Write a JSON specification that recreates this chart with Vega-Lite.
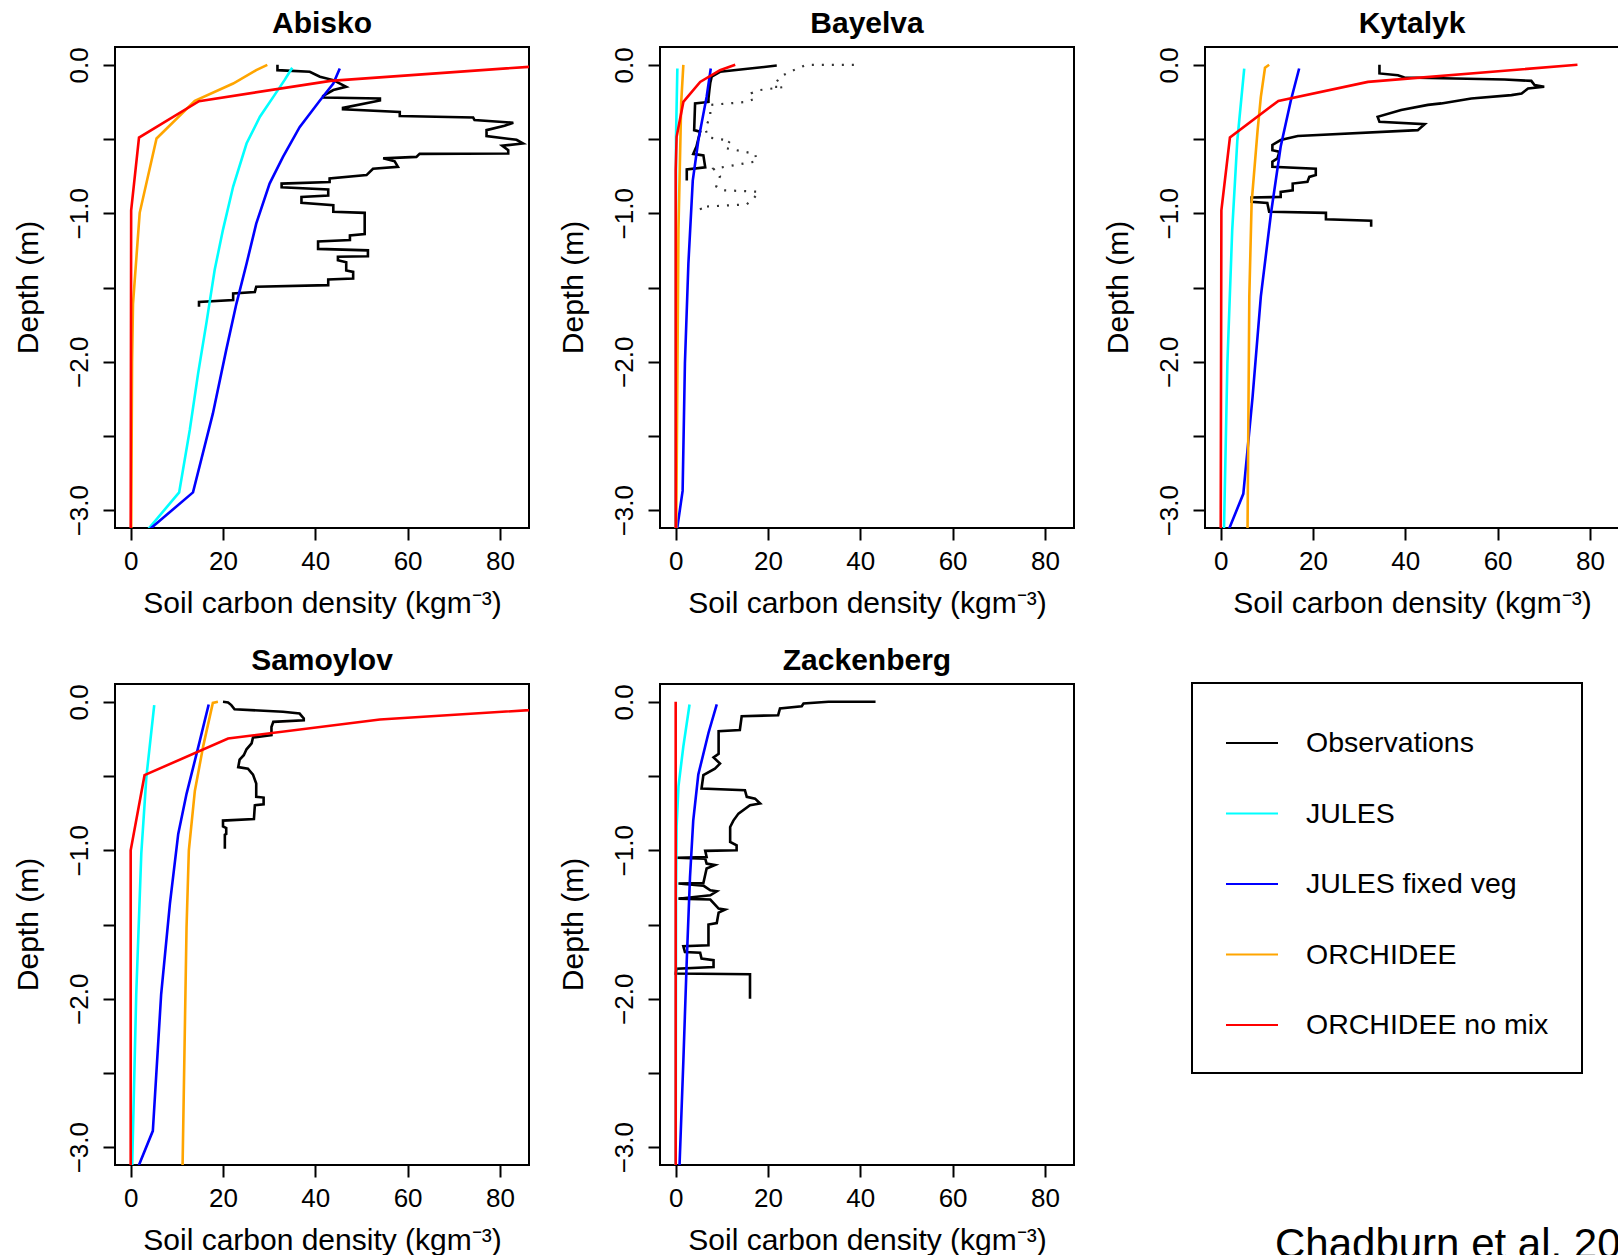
{
"$schema": "https://vega.github.io/schema/vega-lite/v6.json",
"autosize": {"type": "none"},
"padding": {"left": 115, "top": 47, "right": 1503, "bottom": 1208},
"background": "white",
"datasets": {
"profiles": [
{"site":"Abisko","src":"Observations","c":31.8,"d":0},{"site":"Abisko","src":"Observations","c":31.8,"d":-0.036},{"site":"Abisko","src":"Observations","c":38.8,"d":-0.047},{"site":"Abisko","src":"Observations","c":41,"d":-0.08},{"site":"Abisko","src":"Observations","c":43.9,"d":-0.103},{"site":"Abisko","src":"Observations","c":46.7,"d":-0.148},{"site":"Abisko","src":"Observations","c":43.9,"d":-0.17},{"site":"Abisko","src":"Observations","c":41.7,"d":-0.21},{"site":"Abisko","src":"Observations","c":41.7,"d":-0.22},{"site":"Abisko","src":"Observations","c":54,"d":-0.227},{"site":"Abisko","src":"Observations","c":54,"d":-0.24},{"site":"Abisko","src":"Observations","c":46,"d":-0.29},{"site":"Abisko","src":"Observations","c":46,"d":-0.3},{"site":"Abisko","src":"Observations","c":58.3,"d":-0.317},{"site":"Abisko","src":"Observations","c":58.3,"d":-0.345},{"site":"Abisko","src":"Observations","c":74.2,"d":-0.355},{"site":"Abisko","src":"Observations","c":74.5,"d":-0.372},{"site":"Abisko","src":"Observations","c":82.9,"d":-0.39},{"site":"Abisko","src":"Observations","c":81,"d":-0.41},{"site":"Abisko","src":"Observations","c":77.1,"d":-0.44},{"site":"Abisko","src":"Observations","c":77.1,"d":-0.48},{"site":"Abisko","src":"Observations","c":83.6,"d":-0.505},{"site":"Abisko","src":"Observations","c":85,"d":-0.53},{"site":"Abisko","src":"Observations","c":80.5,"d":-0.545},{"site":"Abisko","src":"Observations","c":81.8,"d":-0.575},{"site":"Abisko","src":"Observations","c":81.8,"d":-0.597},{"site":"Abisko","src":"Observations","c":62.6,"d":-0.6},{"site":"Abisko","src":"Observations","c":61.9,"d":-0.62},{"site":"Abisko","src":"Observations","c":54.7,"d":-0.63},{"site":"Abisko","src":"Observations","c":57.2,"d":-0.65},{"site":"Abisko","src":"Observations","c":57.9,"d":-0.687},{"site":"Abisko","src":"Observations","c":52.5,"d":-0.7},{"site":"Abisko","src":"Observations","c":51.1,"d":-0.743},{"site":"Abisko","src":"Observations","c":43.1,"d":-0.766},{"site":"Abisko","src":"Observations","c":43.1,"d":-0.79},{"site":"Abisko","src":"Observations","c":32.7,"d":-0.8},{"site":"Abisko","src":"Observations","c":32.7,"d":-0.825},{"site":"Abisko","src":"Observations","c":42.8,"d":-0.84},{"site":"Abisko","src":"Observations","c":42.8,"d":-0.88},{"site":"Abisko","src":"Observations","c":37,"d":-0.89},{"site":"Abisko","src":"Observations","c":37,"d":-0.93},{"site":"Abisko","src":"Observations","c":43.9,"d":-0.945},{"site":"Abisko","src":"Observations","c":43.9,"d":-0.99},{"site":"Abisko","src":"Observations","c":50.7,"d":-0.997},{"site":"Abisko","src":"Observations","c":50.7,"d":-1.14},{"site":"Abisko","src":"Observations","c":47.5,"d":-1.15},{"site":"Abisko","src":"Observations","c":47.5,"d":-1.18},{"site":"Abisko","src":"Observations","c":40.6,"d":-1.19},{"site":"Abisko","src":"Observations","c":40.6,"d":-1.24},{"site":"Abisko","src":"Observations","c":51.4,"d":-1.25},{"site":"Abisko","src":"Observations","c":51.4,"d":-1.29},{"site":"Abisko","src":"Observations","c":44.9,"d":-1.293},{"site":"Abisko","src":"Observations","c":44.9,"d":-1.316},{"site":"Abisko","src":"Observations","c":46.7,"d":-1.33},{"site":"Abisko","src":"Observations","c":46.7,"d":-1.385},{"site":"Abisko","src":"Observations","c":48.2,"d":-1.395},{"site":"Abisko","src":"Observations","c":48.2,"d":-1.44},{"site":"Abisko","src":"Observations","c":42.8,"d":-1.446},{"site":"Abisko","src":"Observations","c":42.8,"d":-1.484},{"site":"Abisko","src":"Observations","c":27.2,"d":-1.495},{"site":"Abisko","src":"Observations","c":26.9,"d":-1.53},{"site":"Abisko","src":"Observations","c":22.2,"d":-1.54},{"site":"Abisko","src":"Observations","c":22.2,"d":-1.585},{"site":"Abisko","src":"Observations","c":14.8,"d":-1.597},{"site":"Abisko","src":"Observations","c":14.8,"d":-1.63},
{"site":"Abisko","src":"JULES","c":35,"d":-0.02},{"site":"Abisko","src":"JULES","c":33.4,"d":-0.1},{"site":"Abisko","src":"JULES","c":30.9,"d":-0.216},{"site":"Abisko","src":"JULES","c":28,"d":-0.35},{"site":"Abisko","src":"JULES","c":25.1,"d":-0.53},{"site":"Abisko","src":"JULES","c":22.2,"d":-0.82},{"site":"Abisko","src":"JULES","c":20,"d":-1.11},{"site":"Abisko","src":"JULES","c":18.2,"d":-1.38},{"site":"Abisko","src":"JULES","c":16.4,"d":-1.74},{"site":"Abisko","src":"JULES","c":14.6,"d":-2.08},{"site":"Abisko","src":"JULES","c":12.8,"d":-2.46},{"site":"Abisko","src":"JULES","c":10.5,"d":-2.88},{"site":"Abisko","src":"JULES","c":3.2,"d":-3.15},
{"site":"Abisko","src":"JULES fixed veg","c":45.3,"d":-0.025},{"site":"Abisko","src":"JULES fixed veg","c":43.9,"d":-0.126},{"site":"Abisko","src":"JULES fixed veg","c":41,"d":-0.24},{"site":"Abisko","src":"JULES fixed veg","c":36.6,"d":-0.42},{"site":"Abisko","src":"JULES fixed veg","c":33,"d":-0.62},{"site":"Abisko","src":"JULES fixed veg","c":30.1,"d":-0.8},{"site":"Abisko","src":"JULES fixed veg","c":27.2,"d":-1.07},{"site":"Abisko","src":"JULES fixed veg","c":25.1,"d":-1.34},{"site":"Abisko","src":"JULES fixed veg","c":22.9,"d":-1.61},{"site":"Abisko","src":"JULES fixed veg","c":20.7,"d":-1.92},{"site":"Abisko","src":"JULES fixed veg","c":17.8,"d":-2.35},{"site":"Abisko","src":"JULES fixed veg","c":13.5,"d":-2.88},{"site":"Abisko","src":"JULES fixed veg","c":3.3,"d":-3.15},
{"site":"Abisko","src":"ORCHIDEE","c":29.6,"d":0},{"site":"Abisko","src":"ORCHIDEE","c":27.2,"d":-0.036},{"site":"Abisko","src":"ORCHIDEE","c":22.2,"d":-0.126},{"site":"Abisko","src":"ORCHIDEE","c":13.9,"d":-0.243},{"site":"Abisko","src":"ORCHIDEE","c":5.6,"d":-0.496},{"site":"Abisko","src":"ORCHIDEE","c":1.95,"d":-0.997},{"site":"Abisko","src":"ORCHIDEE","c":0.5,"d":-1.61},{"site":"Abisko","src":"ORCHIDEE","c":0.3,"d":-2.0},{"site":"Abisko","src":"ORCHIDEE","c":0.1,"d":-3.2},
{"site":"Abisko","src":"ORCHIDEE no mix","c":92.5,"d":0},{"site":"Abisko","src":"ORCHIDEE no mix","c":43.3,"d":-0.108},{"site":"Abisko","src":"ORCHIDEE no mix","c":14.8,"d":-0.245},{"site":"Abisko","src":"ORCHIDEE no mix","c":1.8,"d":-0.49},{"site":"Abisko","src":"ORCHIDEE no mix","c":0.1,"d":-0.98},{"site":"Abisko","src":"ORCHIDEE no mix","c":0,"d":-3.2},
{"site":"Bayelva","src":"Observations","c":21.9,"d":-0.005},{"site":"Bayelva","src":"Observations","c":16.1,"d":-0.025},{"site":"Bayelva","src":"Observations","c":9.6,"d":-0.047},{"site":"Bayelva","src":"Observations","c":7.8,"d":-0.08},{"site":"Bayelva","src":"Observations","c":7.5,"d":-0.12},{"site":"Bayelva","src":"Observations","c":7.3,"d":-0.17},{"site":"Bayelva","src":"Observations","c":7.1,"d":-0.227},{"site":"Bayelva","src":"Observations","c":7.1,"d":-0.25},{"site":"Bayelva","src":"Observations","c":4.2,"d":-0.26},{"site":"Bayelva","src":"Observations","c":4.0,"d":-0.44},{"site":"Bayelva","src":"Observations","c":5.3,"d":-0.45},{"site":"Bayelva","src":"Observations","c":4.9,"d":-0.5},{"site":"Bayelva","src":"Observations","c":4.5,"d":-0.55},{"site":"Bayelva","src":"Observations","c":3.8,"d":-0.6},{"site":"Bayelva","src":"Observations","c":6.0,"d":-0.61},{"site":"Bayelva","src":"Observations","c":6.4,"d":-0.69},{"site":"Bayelva","src":"Observations","c":2.4,"d":-0.705},{"site":"Bayelva","src":"Observations","c":2.4,"d":-0.78},
{"site":"Bayelva","src":"JULES","c":0.36,"d":-0.025},{"site":"Bayelva","src":"JULES","c":0.07,"d":-0.49},{"site":"Bayelva","src":"JULES","c":0,"d":-3.2},
{"site":"Bayelva","src":"JULES fixed veg","c":7.6,"d":-0.025},{"site":"Bayelva","src":"JULES fixed veg","c":6.7,"d":-0.216},{"site":"Bayelva","src":"JULES fixed veg","c":4.9,"d":-0.51},{"site":"Bayelva","src":"JULES fixed veg","c":3.7,"d":-0.78},{"site":"Bayelva","src":"JULES fixed veg","c":2.75,"d":-1.34},{"site":"Bayelva","src":"JULES fixed veg","c":2.0,"d":-2.01},{"site":"Bayelva","src":"JULES fixed veg","c":1.5,"d":-2.87},{"site":"Bayelva","src":"JULES fixed veg","c":0.2,"d":-3.15},
{"site":"Bayelva","src":"ORCHIDEE","c":1.66,"d":0},{"site":"Bayelva","src":"ORCHIDEE","c":1.2,"d":-0.25},{"site":"Bayelva","src":"ORCHIDEE","c":0.6,"d":-1.11},{"site":"Bayelva","src":"ORCHIDEE","c":0.1,"d":-3.2},
{"site":"Bayelva","src":"ORCHIDEE no mix","c":12.9,"d":0},{"site":"Bayelva","src":"ORCHIDEE no mix","c":9.6,"d":-0.036},{"site":"Bayelva","src":"ORCHIDEE no mix","c":5.3,"d":-0.115},{"site":"Bayelva","src":"ORCHIDEE no mix","c":1.66,"d":-0.25},{"site":"Bayelva","src":"ORCHIDEE no mix","c":0.2,"d":-0.485},{"site":"Bayelva","src":"ORCHIDEE no mix","c":0,"d":-0.71},{"site":"Bayelva","src":"ORCHIDEE no mix","c":0,"d":-3.2},
{"site":"Kytalyk","src":"Observations","c":34.4,"d":0},{"site":"Kytalyk","src":"Observations","c":34.4,"d":-0.058},{"site":"Kytalyk","src":"Observations","c":38.4,"d":-0.07},{"site":"Kytalyk","src":"Observations","c":39.8,"d":-0.085},{"site":"Kytalyk","src":"Observations","c":61.5,"d":-0.099},{"site":"Kytalyk","src":"Observations","c":67.3,"d":-0.108},{"site":"Kytalyk","src":"Observations","c":68,"d":-0.137},{"site":"Kytalyk","src":"Observations","c":70.1,"d":-0.148},{"site":"Kytalyk","src":"Observations","c":66.6,"d":-0.16},{"site":"Kytalyk","src":"Observations","c":65.2,"d":-0.193},{"site":"Kytalyk","src":"Observations","c":63,"d":-0.204},{"site":"Kytalyk","src":"Observations","c":54.3,"d":-0.227},{"site":"Kytalyk","src":"Observations","c":47.8,"d":-0.26},{"site":"Kytalyk","src":"Observations","c":44.9,"d":-0.27},{"site":"Kytalyk","src":"Observations","c":39.1,"d":-0.305},{"site":"Kytalyk","src":"Observations","c":34,"d":-0.35},{"site":"Kytalyk","src":"Observations","c":34.4,"d":-0.384},{"site":"Kytalyk","src":"Observations","c":44.2,"d":-0.4},{"site":"Kytalyk","src":"Observations","c":42.7,"d":-0.44},{"site":"Kytalyk","src":"Observations","c":16.7,"d":-0.48},{"site":"Kytalyk","src":"Observations","c":13,"d":-0.507},{"site":"Kytalyk","src":"Observations","c":11.2,"d":-0.54},{"site":"Kytalyk","src":"Observations","c":11.2,"d":-0.575},{"site":"Kytalyk","src":"Observations","c":12.7,"d":-0.586},{"site":"Kytalyk","src":"Observations","c":12.3,"d":-0.63},{"site":"Kytalyk","src":"Observations","c":11.2,"d":-0.653},{"site":"Kytalyk","src":"Observations","c":11.2,"d":-0.687},{"site":"Kytalyk","src":"Observations","c":20.6,"d":-0.7},{"site":"Kytalyk","src":"Observations","c":20.6,"d":-0.743},{"site":"Kytalyk","src":"Observations","c":19.2,"d":-0.755},{"site":"Kytalyk","src":"Observations","c":18.8,"d":-0.788},{"site":"Kytalyk","src":"Observations","c":15.6,"d":-0.8},{"site":"Kytalyk","src":"Observations","c":15.6,"d":-0.845},{"site":"Kytalyk","src":"Observations","c":13,"d":-0.856},{"site":"Kytalyk","src":"Observations","c":13,"d":-0.89},{"site":"Kytalyk","src":"Observations","c":6.7,"d":-0.894},{"site":"Kytalyk","src":"Observations","c":6.7,"d":-0.923},{"site":"Kytalyk","src":"Observations","c":10.1,"d":-0.93},{"site":"Kytalyk","src":"Observations","c":10.5,"d":-0.99},{"site":"Kytalyk","src":"Observations","c":22.8,"d":-0.997},{"site":"Kytalyk","src":"Observations","c":22.8,"d":-1.04},{"site":"Kytalyk","src":"Observations","c":32.6,"d":-1.05},{"site":"Kytalyk","src":"Observations","c":32.6,"d":-1.09},
{"site":"Kytalyk","src":"JULES","c":5.1,"d":-0.025},{"site":"Kytalyk","src":"JULES","c":3.6,"d":-0.51},{"site":"Kytalyk","src":"JULES","c":2.5,"d":-1.11},{"site":"Kytalyk","src":"JULES","c":1.45,"d":-2.01},{"site":"Kytalyk","src":"JULES","c":0.7,"d":-3.15},
{"site":"Kytalyk","src":"JULES fixed veg","c":17,"d":-0.025},{"site":"Kytalyk","src":"JULES fixed veg","c":15.2,"d":-0.24},{"site":"Kytalyk","src":"JULES fixed veg","c":13,"d":-0.55},{"site":"Kytalyk","src":"JULES fixed veg","c":10.9,"d":-1.0},{"site":"Kytalyk","src":"JULES fixed veg","c":8.7,"d":-1.56},{"site":"Kytalyk","src":"JULES fixed veg","c":6.9,"d":-2.24},{"site":"Kytalyk","src":"JULES fixed veg","c":4.9,"d":-2.89},{"site":"Kytalyk","src":"JULES fixed veg","c":1.5,"d":-3.15},
{"site":"Kytalyk","src":"ORCHIDEE","c":10.5,"d":0},{"site":"Kytalyk","src":"ORCHIDEE","c":9.6,"d":-0.02},{"site":"Kytalyk","src":"ORCHIDEE","c":8.7,"d":-0.216},{"site":"Kytalyk","src":"ORCHIDEE","c":8,"d":-0.44},{"site":"Kytalyk","src":"ORCHIDEE","c":6.7,"d":-0.93},{"site":"Kytalyk","src":"ORCHIDEE","c":6.2,"d":-1.56},{"site":"Kytalyk","src":"ORCHIDEE","c":5.8,"d":-3.2},
{"site":"Kytalyk","src":"ORCHIDEE no mix","c":77.3,"d":0},{"site":"Kytalyk","src":"ORCHIDEE no mix","c":31.9,"d":-0.115},{"site":"Kytalyk","src":"ORCHIDEE no mix","c":12.5,"d":-0.243},{"site":"Kytalyk","src":"ORCHIDEE no mix","c":2.0,"d":-0.49},{"site":"Kytalyk","src":"ORCHIDEE no mix","c":0.15,"d":-0.98},{"site":"Kytalyk","src":"ORCHIDEE no mix","c":0,"d":-3.2},
{"site":"Samoylov","src":"Observations","c":20,"d":0},{"site":"Samoylov","src":"Observations","c":21.1,"d":-0.004},{"site":"Samoylov","src":"Observations","c":21.8,"d":-0.022},{"site":"Samoylov","src":"Observations","c":22.5,"d":-0.05},{"site":"Samoylov","src":"Observations","c":33,"d":-0.067},{"site":"Samoylov","src":"Observations","c":36.6,"d":-0.079},{"site":"Samoylov","src":"Observations","c":37.5,"d":-0.112},{"site":"Samoylov","src":"Observations","c":37.5,"d":-0.124},{"site":"Samoylov","src":"Observations","c":30.9,"d":-0.135},{"site":"Samoylov","src":"Observations","c":30.5,"d":-0.17},{"site":"Samoylov","src":"Observations","c":30.5,"d":-0.225},{"site":"Samoylov","src":"Observations","c":26.5,"d":-0.24},{"site":"Samoylov","src":"Observations","c":26.2,"d":-0.28},{"site":"Samoylov","src":"Observations","c":25.1,"d":-0.32},{"site":"Samoylov","src":"Observations","c":24.5,"d":-0.36},{"site":"Samoylov","src":"Observations","c":23.6,"d":-0.39},{"site":"Samoylov","src":"Observations","c":23.3,"d":-0.44},{"site":"Samoylov","src":"Observations","c":25.4,"d":-0.45},{"site":"Samoylov","src":"Observations","c":26.5,"d":-0.49},{"site":"Samoylov","src":"Observations","c":27.2,"d":-0.55},{"site":"Samoylov","src":"Observations","c":27.2,"d":-0.64},{"site":"Samoylov","src":"Observations","c":28.8,"d":-0.645},{"site":"Samoylov","src":"Observations","c":28.8,"d":-0.69},{"site":"Samoylov","src":"Observations","c":26.9,"d":-0.697},{"site":"Samoylov","src":"Observations","c":26.7,"d":-0.79},{"site":"Samoylov","src":"Observations","c":20,"d":-0.8},{"site":"Samoylov","src":"Observations","c":20,"d":-0.84},{"site":"Samoylov","src":"Observations","c":20.7,"d":-0.85},{"site":"Samoylov","src":"Observations","c":20.7,"d":-0.89},{"site":"Samoylov","src":"Observations","c":20.4,"d":-0.895},{"site":"Samoylov","src":"Observations","c":20.4,"d":-0.99},
{"site":"Samoylov","src":"JULES","c":5.1,"d":-0.022},{"site":"Samoylov","src":"JULES","c":3.4,"d":-0.506},{"site":"Samoylov","src":"JULES","c":2.3,"d":-1.02},{"site":"Samoylov","src":"JULES","c":1.2,"d":-1.97},{"site":"Samoylov","src":"JULES","c":0.3,"d":-3.15},
{"site":"Samoylov","src":"JULES fixed veg","c":16.9,"d":-0.018},{"site":"Samoylov","src":"JULES fixed veg","c":15,"d":-0.26},{"site":"Samoylov","src":"JULES fixed veg","c":12.1,"d":-0.62},{"site":"Samoylov","src":"JULES fixed veg","c":10.3,"d":-0.89},{"site":"Samoylov","src":"JULES fixed veg","c":8.5,"d":-1.36},{"site":"Samoylov","src":"JULES fixed veg","c":6.6,"d":-1.97},{"site":"Samoylov","src":"JULES fixed veg","c":4.8,"d":-2.89},{"site":"Samoylov","src":"JULES fixed veg","c":1.4,"d":-3.15},
{"site":"Samoylov","src":"ORCHIDEE","c":18.9,"d":0},{"site":"Samoylov","src":"ORCHIDEE","c":17.8,"d":-0.007},{"site":"Samoylov","src":"ORCHIDEE","c":15.7,"d":-0.3},{"site":"Samoylov","src":"ORCHIDEE","c":13.9,"d":-0.6},{"site":"Samoylov","src":"ORCHIDEE","c":12.6,"d":-1.0},{"site":"Samoylov","src":"ORCHIDEE","c":12.1,"d":-1.52},{"site":"Samoylov","src":"ORCHIDEE","c":11.2,"d":-3.2},
{"site":"Samoylov","src":"ORCHIDEE no mix","c":115,"d":0},{"site":"Samoylov","src":"ORCHIDEE no mix","c":54,"d":-0.119},{"site":"Samoylov","src":"ORCHIDEE no mix","c":21.1,"d":-0.247},{"site":"Samoylov","src":"ORCHIDEE no mix","c":3.0,"d":-0.494},{"site":"Samoylov","src":"ORCHIDEE no mix","c":0,"d":-1.0},{"site":"Samoylov","src":"ORCHIDEE no mix","c":0,"d":-3.2},
{"site":"Zackenberg","src":"Observations","c":43.3,"d":0},{"site":"Zackenberg","src":"Observations","c":33.1,"d":0},{"site":"Zackenberg","src":"Observations","c":27.7,"d":-0.011},{"site":"Zackenberg","src":"Observations","c":27.3,"d":-0.03},{"site":"Zackenberg","src":"Observations","c":22.6,"d":-0.045},{"site":"Zackenberg","src":"Observations","c":22.2,"d":-0.09},{"site":"Zackenberg","src":"Observations","c":14.3,"d":-0.097},{"site":"Zackenberg","src":"Observations","c":13.9,"d":-0.19},{"site":"Zackenberg","src":"Observations","c":9.3,"d":-0.198},{"site":"Zackenberg","src":"Observations","c":9.3,"d":-0.35},{"site":"Zackenberg","src":"Observations","c":8.2,"d":-0.375},{"site":"Zackenberg","src":"Observations","c":9.6,"d":-0.416},{"site":"Zackenberg","src":"Observations","c":8.5,"d":-0.45},{"site":"Zackenberg","src":"Observations","c":6.0,"d":-0.494},{"site":"Zackenberg","src":"Observations","c":5.6,"d":-0.584},{"site":"Zackenberg","src":"Observations","c":15,"d":-0.595},{"site":"Zackenberg","src":"Observations","c":15.4,"d":-0.64},{"site":"Zackenberg","src":"Observations","c":17.2,"d":-0.652},{"site":"Zackenberg","src":"Observations","c":18.3,"d":-0.685},{"site":"Zackenberg","src":"Observations","c":16.1,"d":-0.697},{"site":"Zackenberg","src":"Observations","c":13.6,"d":-0.753},{"site":"Zackenberg","src":"Observations","c":12.5,"d":-0.8},{"site":"Zackenberg","src":"Observations","c":11.8,"d":-0.843},{"site":"Zackenberg","src":"Observations","c":11.8,"d":-0.944},{"site":"Zackenberg","src":"Observations","c":13.2,"d":-0.966},{"site":"Zackenberg","src":"Observations","c":13.2,"d":-1.0},{"site":"Zackenberg","src":"Observations","c":6.4,"d":-1.004},{"site":"Zackenberg","src":"Observations","c":6.7,"d":-1.045},{"site":"Zackenberg","src":"Observations","c":0.2,"d":-1.05},{"site":"Zackenberg","src":"Observations","c":6.4,"d":-1.056},{"site":"Zackenberg","src":"Observations","c":6.7,"d":-1.09},{"site":"Zackenberg","src":"Observations","c":8.5,"d":-1.1},{"site":"Zackenberg","src":"Observations","c":6.7,"d":-1.123},{"site":"Zackenberg","src":"Observations","c":6.0,"d":-1.22},{"site":"Zackenberg","src":"Observations","c":0.6,"d":-1.224},{"site":"Zackenberg","src":"Observations","c":6.0,"d":-1.238},{"site":"Zackenberg","src":"Observations","c":7.5,"d":-1.27},{"site":"Zackenberg","src":"Observations","c":8.9,"d":-1.276},{"site":"Zackenberg","src":"Observations","c":7.5,"d":-1.303},{"site":"Zackenberg","src":"Observations","c":0.6,"d":-1.326},{"site":"Zackenberg","src":"Observations","c":7.5,"d":-1.332},{"site":"Zackenberg","src":"Observations","c":9.3,"d":-1.393},{"site":"Zackenberg","src":"Observations","c":10.7,"d":-1.4},{"site":"Zackenberg","src":"Observations","c":9.3,"d":-1.42},{"site":"Zackenberg","src":"Observations","c":8.9,"d":-1.49},{"site":"Zackenberg","src":"Observations","c":7.1,"d":-1.5},{"site":"Zackenberg","src":"Observations","c":7.1,"d":-1.64},{"site":"Zackenberg","src":"Observations","c":1.66,"d":-1.647},{"site":"Zackenberg","src":"Observations","c":2.0,"d":-1.685},{"site":"Zackenberg","src":"Observations","c":5.3,"d":-1.69},{"site":"Zackenberg","src":"Observations","c":5.6,"d":-1.73},{"site":"Zackenberg","src":"Observations","c":8.2,"d":-1.74},{"site":"Zackenberg","src":"Observations","c":8.2,"d":-1.786},{"site":"Zackenberg","src":"Observations","c":0.2,"d":-1.798},{"site":"Zackenberg","src":"Observations","c":0,"d":-1.83},{"site":"Zackenberg","src":"Observations","c":16.1,"d":-1.835},{"site":"Zackenberg","src":"Observations","c":16.1,"d":-2.0},
{"site":"Zackenberg","src":"JULES","c":3.0,"d":-0.018},{"site":"Zackenberg","src":"JULES","c":1.66,"d":-0.3},{"site":"Zackenberg","src":"JULES","c":0.6,"d":-0.57},{"site":"Zackenberg","src":"JULES","c":0.2,"d":-0.84},{"site":"Zackenberg","src":"JULES","c":0.07,"d":-1.29},{"site":"Zackenberg","src":"JULES","c":0,"d":-3.2},
{"site":"Zackenberg","src":"JULES fixed veg","c":8.9,"d":-0.018},{"site":"Zackenberg","src":"JULES fixed veg","c":7.1,"d":-0.21},{"site":"Zackenberg","src":"JULES fixed veg","c":4.9,"d":-0.49},{"site":"Zackenberg","src":"JULES fixed veg","c":3.8,"d":-0.8},{"site":"Zackenberg","src":"JULES fixed veg","c":3.1,"d":-1.18},{"site":"Zackenberg","src":"JULES fixed veg","c":2.4,"d":-1.74},{"site":"Zackenberg","src":"JULES fixed veg","c":1.66,"d":-2.42},{"site":"Zackenberg","src":"JULES fixed veg","c":0.8,"d":-3.15},
{"site":"Zackenberg","src":"ORCHIDEE no mix","c":0,"d":0},{"site":"Zackenberg","src":"ORCHIDEE no mix","c":0,"d":-3.2}
],
"dotted": [
{"c":38.6,"d":0},{"c":28.4,"d":0},{"c":26.3,"d":-0.025},{"c":22.6,"d":-0.08},{"c":21.2,"d":-0.148},{"c":23.4,"d":-0.15},{"c":18.3,"d":-0.17},{"c":16.5,"d":-0.19},{"c":17.2,"d":-0.227},{"c":15.4,"d":-0.25},{"c":7.5,"d":-0.27},{"c":7.5,"d":-0.345},{"c":6.4,"d":-0.43},{"c":7.1,"d":-0.49},{"c":11.8,"d":-0.51},{"c":10.7,"d":-0.56},{"c":17.2,"d":-0.6},{"c":17.6,"d":-0.65},{"c":8.2,"d":-0.7},{"c":9.6,"d":-0.75},{"c":8.8,"d":-0.82},{"c":10.3,"d":-0.845},{"c":18,"d":-0.855},{"c":16.9,"d":-0.9},{"c":15.4,"d":-0.94},{"c":5.3,"d":-0.957},{"c":6.0,"d":-1.02}
]
},
"columns": 3,
"bounds": "flush",
"spacing": {"column": 131, "row": 156},
"title": {"text": "Chadburn et al. 2017", "orient": "bottom", "anchor": "start", "frame": "group", "offset": 2, "dx": 1160, "baseline": "alphabetic", "fontSize": 42, "fontWeight": "normal", "font": "Liberation Sans", "color": "black"},
"concat": [
{"title": "Abisko", "width": 414, "height": 481, "data": {"name": "profiles"}, "transform": [{"filter": "datum.site === 'Abisko'"}],
 "mark": {"type": "line", "clip": true, "strokeWidth": 2.6},
 "encoding": {
  "x": {"field": "c", "type": "quantitative", "title": "Soil carbon density (kgm⁻³)", "scale": {"domain": [-3.4, 86.3], "nice": false, "zero": false}, "axis": {"values": [0, 20, 40, 60, 80]}},
  "y": {"field": "d", "type": "quantitative", "title": "Depth (m)", "scale": {"domain": [-3.12, 0.12], "nice": false, "zero": false}, "axis": {"values": [0, -0.5, -1, -1.5, -2, -2.5, -3]}},
  "color": {"field": "src", "type": "nominal", "scale": {"domain": ["Observations", "JULES", "JULES fixed veg", "ORCHIDEE", "ORCHIDEE no mix"], "range": ["#000000", "#00FFFF", "#0000FF", "#FFA500", "#FF0000"]}, "legend": {"title": null}},
  "order": {"value": null}}},
{"title": "Bayelva", "width": 414, "height": 481,
 "layer": [
  {"data": {"name": "dotted"}, "mark": {"type": "line", "clip": true, "strokeWidth": 2.2, "strokeDash": [2, 8], "color": "#333333"},
   "encoding": {
    "x": {"field": "c", "type": "quantitative", "title": "Soil carbon density (kgm⁻³)", "scale": {"domain": [-3.4, 86.3], "nice": false, "zero": false}, "axis": {"values": [0, 20, 40, 60, 80]}},
    "y": {"field": "d", "type": "quantitative", "title": "Depth (m)", "scale": {"domain": [-3.12, 0.12], "nice": false, "zero": false}, "axis": {"values": [0, -0.5, -1, -1.5, -2, -2.5, -3]}},
    "order": {"value": null}}},
  {"data": {"name": "profiles"}, "transform": [{"filter": "datum.site === 'Bayelva'"}],
   "mark": {"type": "line", "clip": true, "strokeWidth": 2.6},
   "encoding": {
    "x": {"field": "c", "type": "quantitative", "title": "Soil carbon density (kgm⁻³)", "scale": {"domain": [-3.4, 86.3], "nice": false, "zero": false}, "axis": {"values": [0, 20, 40, 60, 80]}},
    "y": {"field": "d", "type": "quantitative", "title": "Depth (m)", "scale": {"domain": [-3.12, 0.12], "nice": false, "zero": false}, "axis": {"values": [0, -0.5, -1, -1.5, -2, -2.5, -3]}},
    "color": {"field": "src", "type": "nominal", "scale": {"domain": ["Observations", "JULES", "JULES fixed veg", "ORCHIDEE", "ORCHIDEE no mix"], "range": ["#000000", "#00FFFF", "#0000FF", "#FFA500", "#FF0000"]}, "legend": {"title": null}},
    "order": {"value": null}}}
 ]},
{"title": "Kytalyk", "width": 414, "height": 481, "data": {"name": "profiles"}, "transform": [{"filter": "datum.site === 'Kytalyk'"}],
 "mark": {"type": "line", "clip": true, "strokeWidth": 2.6},
 "encoding": {
  "x": {"field": "c", "type": "quantitative", "title": "Soil carbon density (kgm⁻³)", "scale": {"domain": [-3.4, 86.3], "nice": false, "zero": false}, "axis": {"values": [0, 20, 40, 60, 80]}},
  "y": {"field": "d", "type": "quantitative", "title": "Depth (m)", "scale": {"domain": [-3.12, 0.12], "nice": false, "zero": false}, "axis": {"values": [0, -0.5, -1, -1.5, -2, -2.5, -3]}},
  "color": {"field": "src", "type": "nominal", "scale": {"domain": ["Observations", "JULES", "JULES fixed veg", "ORCHIDEE", "ORCHIDEE no mix"], "range": ["#000000", "#00FFFF", "#0000FF", "#FFA500", "#FF0000"]}, "legend": {"title": null}},
  "order": {"value": null}}},
{"title": "Samoylov", "width": 414, "height": 481, "data": {"name": "profiles"}, "transform": [{"filter": "datum.site === 'Samoylov'"}],
 "mark": {"type": "line", "clip": true, "strokeWidth": 2.6},
 "encoding": {
  "x": {"field": "c", "type": "quantitative", "title": "Soil carbon density (kgm⁻³)", "scale": {"domain": [-3.4, 86.3], "nice": false, "zero": false}, "axis": {"values": [0, 20, 40, 60, 80]}},
  "y": {"field": "d", "type": "quantitative", "title": "Depth (m)", "scale": {"domain": [-3.12, 0.12], "nice": false, "zero": false}, "axis": {"values": [0, -0.5, -1, -1.5, -2, -2.5, -3]}},
  "color": {"field": "src", "type": "nominal", "scale": {"domain": ["Observations", "JULES", "JULES fixed veg", "ORCHIDEE", "ORCHIDEE no mix"], "range": ["#000000", "#00FFFF", "#0000FF", "#FFA500", "#FF0000"]}, "legend": {"title": null}},
  "order": {"value": null}}},
{"title": "Zackenberg", "width": 414, "height": 481, "data": {"name": "profiles"}, "transform": [{"filter": "datum.site === 'Zackenberg'"}],
 "mark": {"type": "line", "clip": true, "strokeWidth": 2.6},
 "encoding": {
  "x": {"field": "c", "type": "quantitative", "title": "Soil carbon density (kgm⁻³)", "scale": {"domain": [-3.4, 86.3], "nice": false, "zero": false}, "axis": {"values": [0, 20, 40, 60, 80]}},
  "y": {"field": "d", "type": "quantitative", "title": "Depth (m)", "scale": {"domain": [-3.12, 0.12], "nice": false, "zero": false}, "axis": {"values": [0, -0.5, -1, -1.5, -2, -2.5, -3]}},
  "color": {"field": "src", "type": "nominal", "scale": {"domain": ["Observations", "JULES", "JULES fixed veg", "ORCHIDEE", "ORCHIDEE no mix"], "range": ["#000000", "#00FFFF", "#0000FF", "#FFA500", "#FF0000"]}, "legend": {"title": null}},
  "order": {"value": null}}}
],
"config": {
 "font": "Liberation Sans",
 "view": {"stroke": "#000000", "strokeWidth": 2},
 "axis": {"grid": false, "domain": false, "tickColor": "#000000", "tickWidth": 2, "tickSize": 12, "labelColor": "#000000", "labelFont": "Liberation Sans", "labelFontSize": 26, "titleColor": "#000000", "titleFont": "Liberation Sans", "titleFontSize": 30, "titleFontWeight": "normal", "labelFlush": false, "labelOverlap": false},
 "axisX": {"labelBaseline": "alphabetic", "labelPadding": 29, "titleX": 207, "titleY": 84, "titleAlign": "center", "titleBaseline": "alphabetic"},
 "axisY": {"labelExpr": "datum.value % 1 === 0 ? format(datum.value, '.1f') : ''", "labelAngle": -90, "labelAlign": "center", "labelBaseline": "alphabetic", "labelPadding": 15.5, "titleX": -78, "titleY": 240, "titleAngle": -90, "titleAlign": "center", "titleBaseline": "alphabetic"},
 "title": {"fontSize": 30, "fontWeight": "bold", "color": "#000000", "font": "Liberation Sans", "baseline": "alphabetic", "offset": 8, "anchor": "middle"},
 "legend": {"orient": "none", "legendX": 1077, "legendY": 636, "strokeColor": "#000000", "strokeWidth": 2, "padding": 33, "symbolType": "stroke", "symbolSize": 2704, "symbolStrokeWidth": 2, "labelFontSize": 28.5, "labelFont": "Liberation Sans", "labelColor": "#000000", "labelOffset": 27, "rowPadding": 28.5, "labelLimit": 400}
}
}
